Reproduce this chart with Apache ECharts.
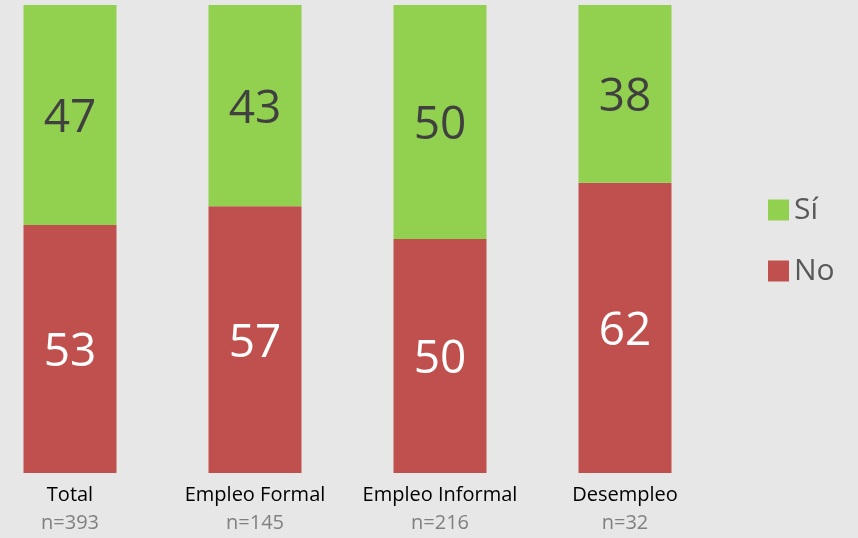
<!DOCTYPE html>
<html>
<head>
<meta charset="utf-8">
<script src="https://cdn.jsdelivr.net/npm/echarts@6/dist/echarts.min.js"></script>
<style>
  html, body { margin: 0; padding: 0; background: #e7e7e7; }
  #chart { width: 858px; height: 538px; }
</style>
</head>
<body>
<div id="chart"></div>
<script>
var chart = echarts.init(document.getElementById('chart'));

// datos
var categorias = ['Total', 'Empleo Formal', 'Empleo Informal', 'Desempleo'];
var muestras = ['n=393', 'n=145', 'n=216', 'n=32'];
var valoresNo = [53, 57, 50, 62];
var valoresSi = [47, 43, 50, 38];

var option = {
    backgroundColor: '#e7e7e7',
    textStyle: { fontFamily: 'Open Sans' },
    grid: {
        left: -22.5,
        width: 740,
        top: 5,
        bottom: 65,
        outerBoundsMode: 'none'
    },
    legend: {
        orient: 'vertical',
        left: 763,
        top: 190,
        icon: 'rect',
        itemWidth: 21,
        itemHeight: 21,
        itemGap: 31,
        data: ['Sí', 'No'],
        textStyle: {
            fontSize: 30,
            lineHeight: 21,
            color: '#595959',
            fontFamily: 'Open Sans'
        }
    },
    xAxis: {
        type: 'category',
        data: categorias,
        axisLine: { show: false },
        axisTick: { show: false },
        axisLabel: {
            margin: 8,
            formatter: function (v, i) {
                return '{a|' + v + '}\n{b|' + muestras[i] + '}';
            },
            rich: {
                a: { fontSize: 20, color: '#000', lineHeight: 28, fontFamily: 'Open Sans' },
                b: { fontSize: 20, color: '#808080', lineHeight: 28, fontFamily: 'Open Sans' }
            }
        }
    },
    yAxis: {
        type: 'value',
        min: 0,
        max: 100,
        show: false
    },
    series: [{
        name: 'No',
        type: 'bar',
        stack: 'total',
        barWidth: 93,
        data: valoresNo,
        itemStyle: { color: '#c0504d' },
        label: {
            show: true,
            position: 'inside',
            offset: [0, 4],
            fontSize: 46,
            color: '#ffffff',
            fontFamily: 'Open Sans'
        }
    }, {
        name: 'Sí',
        type: 'bar',
        stack: 'total',
        barWidth: 93,
        data: valoresSi,
        itemStyle: { color: '#92d050' },
        label: {
            show: true,
            position: 'inside',
            offset: [0, 4],
            fontSize: 46,
            color: '#404040',
            fontFamily: 'Open Sans'
        }
    }]
};
chart.setOption(option);
</script>
</body>
</html>
